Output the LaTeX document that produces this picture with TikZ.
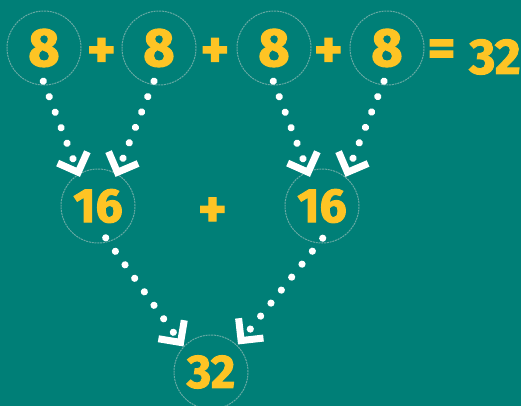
\documentclass[tikz,border=0pt]{standalone}
\usepackage{fontspec}
\setmainfont{Fira Sans}[BoldFeatures={FakeBold=2}]
\usetikzlibrary{calc,decorations.markings}

\definecolor{board}{RGB}{0,127,119}
\definecolor{chalk}{RGB}{254,196,36}
\definecolor{ringline}{RGB}{104,170,164}

\tikzset{
  numring/.style={circle, draw=ringline, line width=1pt, dash pattern=on 2pt off 0.8pt,
    minimum size=74pt, inner sep=0pt, text=chalk, font=\bfseries\fontsize{54}{54}\selectfont},
  midnum/.style={font=\bfseries\fontsize{48}{48}\selectfont},
  lownum/.style={font=\bfseries\fontsize{47}{47}\selectfont},
  sign/.style={inner sep=0pt, text=chalk, font=\bfseries\fontsize{54}{54}\selectfont},
  total/.style={inner sep=0pt, text=chalk, font=\bfseries\fontsize{50}{50}\selectfont},
  dotarrow/.style={decoration={markings,
      mark=between positions 0 and -14pt step 16.6pt with {\fill[white] (0,0) circle (3.6pt);},
      mark=at position 1 with {\draw[white, line width=7pt, line join=miter, line cap=butt]
        (-20.9pt,15.9pt) -- (-5pt,0pt) -- (-20.9pt,-15.9pt);}},
    postaction={decorate}}
}

\begin{document}
\begin{tikzpicture}[x=1pt,y=-1pt]
  \fill[board] (0,0) rectangle (521,406);
  \clip (0,0) rectangle (521,406);

  % top row
  \node[numring] (a1) at (44,48) {8};
  \node[sign] (p1) at (101.5,53) {+};
  \node[numring] (a2) at (159,48) {8};
  \node[sign] (p2) at (215,53) {+};
  \node[numring] (a3) at (274,48) {8};
  \node[sign] (p3) at (328.5,53) {+};
  \node[numring] (a4) at (387,48) {8};
  \node[sign] (eq) at (441.5,53) {=};
  \node[total] (sum) at (495,57) {32};

  % middle row
  \node[numring, midnum] (b1) at (98,206) {16};
  \node[sign] (p4) at (212.5,212.5) {+};
  \node[numring, midnum] (b2) at (322,206) {16};

  % bottom
  \node[numring, lownum] (c1) at (211,372) {32};

  % arrow ends
  \coordinate (t1) at (80,177);
  \coordinate (t2) at (115.5,177);
  \coordinate (t3) at (310,177);
  \coordinate (t4) at (345.5,177);
  \coordinate (t5) at (183.5,346.5);
  \coordinate (t6) at (238,344.5);

  \path[dotarrow] ($(a1.south)+(-0.7,-4.3)$) -- (t1);
  \path[dotarrow] ($(a2.south)+(-5,-4.3)$) -- (t2);
  \path[dotarrow] ($(a3.south)+(-0.7,-4.3)$) -- (t3);
  \path[dotarrow] ($(a4.south)+(-3,-4.3)$) -- (t4);
  \path[dotarrow] ($(b1.south)+(7.7,-5.7)$) -- (t5);
  \path[dotarrow] ($(b2.south)+(0.7,-5.3)$) -- (t6);
\end{tikzpicture}
\end{document}
